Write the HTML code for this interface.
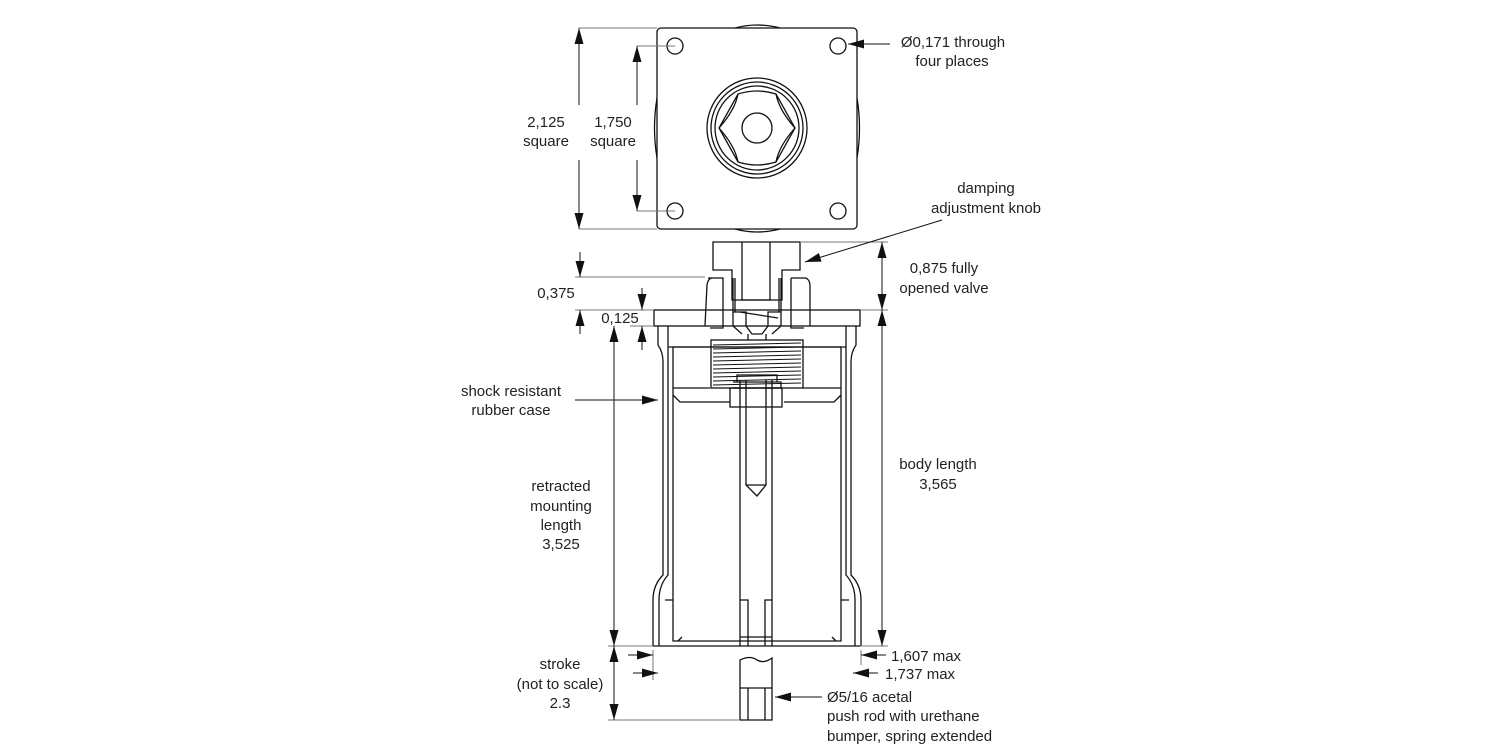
<!DOCTYPE html>
<html><head><meta charset="utf-8"><style>
html,body{margin:0;padding:0;background:#fff}
svg{display:block}
text{font-family:"Liberation Sans",Arial,sans-serif;font-size:15px;fill:#222}
</style></head><body>
<svg width="1500" height="750" viewBox="0 0 1500 750" xmlns="http://www.w3.org/2000/svg">
<defs>
<marker id="a" viewBox="0 0 10 10" refX="10" refY="5" markerWidth="16" markerHeight="9" markerUnits="userSpaceOnUse" orient="auto" preserveAspectRatio="none"><path d="M0,0 L10,5 L0,10 z" fill="#111"/></marker>
</defs>
<g fill="none" stroke="#111" stroke-width="1.3">
<!-- top view -->
<path d="M735,28 Q757,22 780,28"/><path d="M735,229 Q757,235 780,229"/>
<path d="M657,98 Q652,128 657,158"/><path d="M857,98 Q862,128 857,158"/>
<rect x="657" y="28" width="200" height="201" rx="4" fill="#fff"/>
<circle cx="675" cy="46" r="8"/><circle cx="838" cy="46" r="8"/>
<circle cx="675" cy="211" r="8"/><circle cx="838" cy="211" r="8"/>
<circle cx="757" cy="128" r="50"/><circle cx="757" cy="128" r="46"/><circle cx="757" cy="128" r="42"/>
<path d="M738,94 Q757,88 776,94 L795,128 L776,162 Q757,168 738,162 L719,128 Z"/>
<path d="M738,94 Q735,110 719,128 M776,94 Q779,110 795,128 M738,162 Q735,146 719,128 M776,162 Q779,146 795,128"/>
<circle cx="757" cy="128" r="15"/>
<!-- knob -->
<path d="M713,242 H800 V270 H782 V300 H732 V270 H713 Z"/>
<path d="M742,242 V300 H770 V242"/>
<path d="M708,278 H723 V328 H710 M705,326 L707,285 Q708,278 713,278"/>
<path d="M791,278 H806 Q810,280 810,286 L810,326 M791,278 V328 H804"/>
<path d="M733,278 V312 M735,278 V312 M781,278 V312 M779,278 V312"/>
<path d="M733,312 H746 V326 L752,334 H762 L768,326 V312 H781"/>
<path d="M740,312 L778,318"/>
<path d="M733,312 V326 L742,334 M781,312 V326 L772,334"/>
<path d="M748,334 V340 M766,334 V340"/>
<!-- flange -->
<rect x="654" y="310" width="206" height="16"/>
<!-- case -->
<path d="M658,326 L658,345 Q663,352 663,362 L663,575 Q653,585 653,600 L653,646"/>
<path d="M668,326 L668,345 L668,575 Q659,585 659,600 L659,646"/>
<path d="M856,326 L856,345 Q851,352 851,362 L851,575 Q861,585 861,600 L861,646"/>
<path d="M846,326 L846,345 L846,575 Q855,585 855,600 L855,646"/>
<path d="M673,347 V641 H841 V347 Z"/>
<path d="M668,347 H846"/>
<path d="M673,388 H710 M803,388 H841"/>
<path d="M673,395 L680,402 H730 M841,395 L834,402 H784"/>
<path d="M653,646 H861"/>
<path d="M665,600 H673 M841,600 H849"/>
<path d="M678,641 L682,637 M836,641 L832,637"/>
<!-- threaded -->
<rect x="711" y="340" width="92" height="48"/>
<path d="M713,345 L801,343 M713,349 L801,347 M713,353 L801,351 M713,357 L801,355 M713,361 L801,359 M713,365 L801,363 M713,369 L801,367 M713,373 L801,371 M713,377 L801,375 M713,381 L801,379 M713,385 L801,383" stroke-width="1"/>
<path d="M737,375 H777 V382 H737 Z M733,382 H781 V388 H733"/>
<rect x="730" y="388" width="52" height="19"/>
<!-- rod -->
<path d="M740,380 V646 M772,380 V646"/>
<path d="M746,380 V485 L757,496 L766,485 V380 M746,485 H766"/>
<path d="M740,600 H748 V646 M772,600 H765 V646 M740,637 H772"/>
<!-- push rod -->
<path d="M740,720 V660 Q750,655 757,660 Q764,664 772,658 V720 H740"/>
<path d="M740,688 H772 M748,688 V720 M765,688 V720"/>
</g>
<!-- dimension lines -->
<g fill="none" stroke="#777" stroke-width="1">
<path d="M579,28 H657 M579,229 H657 M637,46 H675 M637,211 H675"/>
<path d="M575,277 H705 M575,310 H654 M630,326 H654"/>
<path d="M800,242 H888 M860,310 H888 M860,646 H888"/>
<path d="M608,646 H653 M608,720 H740"/>
<path d="M630,655 H653 M861,655 H880 M640,673 H658 M853,673 H875 M653,650 V680 M861,650 V665"/>
</g>
<g fill="none" stroke="#111" stroke-width="1">
<path d="M579,105 V28" marker-end="url(#a)"/><path d="M579,160 V229" marker-end="url(#a)"/>
<path d="M637,105 V46" marker-end="url(#a)"/><path d="M637,160 V211" marker-end="url(#a)"/>
<path d="M890,44 H848" marker-end="url(#a)"/>
<path d="M942,220 L805,262" marker-end="url(#a)"/>
<path d="M882,276 V242" marker-end="url(#a)"/><path d="M882,276 V310" marker-end="url(#a)"/>
<path d="M882,480 V310" marker-end="url(#a)"/><path d="M882,480 V646" marker-end="url(#a)"/>
<path d="M580,252 V277" marker-end="url(#a)"/><path d="M580,334 V310" marker-end="url(#a)"/>
<path d="M642,288 V310" marker-end="url(#a)"/><path d="M642,350 V326" marker-end="url(#a)"/>
<path d="M614,480 V326" marker-end="url(#a)"/><path d="M614,480 V646" marker-end="url(#a)"/>
<path d="M614,685 V646" marker-end="url(#a)"/><path d="M614,685 V720" marker-end="url(#a)"/>
<path d="M575,400 H658" marker-end="url(#a)"/>
<path d="M628,655 H653" marker-end="url(#a)"/><path d="M886,655 H861" marker-end="url(#a)"/>
<path d="M633,673 H658" marker-end="url(#a)"/><path d="M878,673 H853" marker-end="url(#a)"/>
<path d="M822,697 H775" marker-end="url(#a)"/>
</g>
<g text-anchor="middle">
<text x="546" y="127">2,125</text><text x="546" y="146">square</text>
<text x="613" y="127">1,750</text><text x="613" y="146">square</text>
<text x="953" y="47">Ø0,171 through</text><text x="952" y="66">four places</text>
<text x="986" y="193">damping</text><text x="986" y="213">adjustment knob</text>
<text x="944" y="273">0,875 fully</text><text x="944" y="293">opened valve</text>
<text x="556" y="298">0,375</text>
<text x="620" y="323">0,125</text>
<text x="511" y="396">shock resistant</text><text x="511" y="415">rubber case</text>
<text x="938" y="469">body length</text><text x="938" y="489">3,565</text>
<text x="561" y="491">retracted</text><text x="561" y="511">mounting</text><text x="561" y="530">length</text><text x="561" y="549">3,525</text>
<text x="560" y="669">stroke</text><text x="560" y="689">(not to scale)</text><text x="560" y="708">2.3</text>
</g>
<text x="891" y="661">1,607 max</text>
<text x="885" y="679">1,737 max</text>
<text x="827" y="702">Ø5/16 acetal</text>
<text x="827" y="721">push rod with urethane</text>
<text x="827" y="741">bumper, spring extended</text>
</svg>
</body></html>
